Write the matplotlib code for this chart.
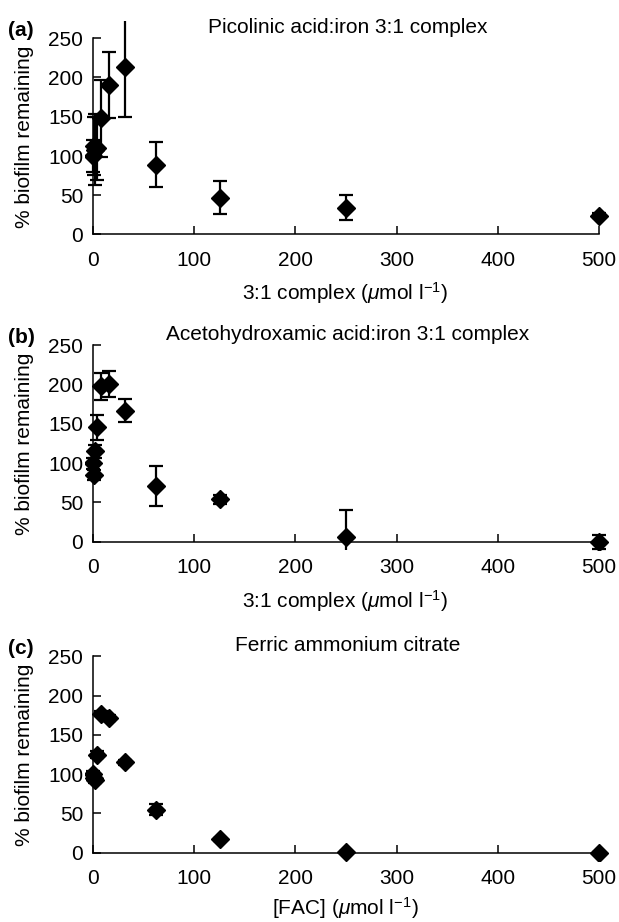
import matplotlib
matplotlib.use('Agg')
import matplotlib.pyplot as plt

plt.rcParams['font.family'] = ['Liberation Sans', 'DejaVu Sans']
plt.rcParams['mathtext.fontset'] = 'custom'
plt.rcParams['mathtext.rm'] = 'Liberation Sans'
plt.rcParams['mathtext.it'] = 'Liberation Sans:italic'

# concentrations (umol/l), same series for all three panels
conc = [0, 0.98, 1.95, 3.9, 7.8, 15.6, 31.25, 62.5, 125, 250, 500]

# (a) picolinic acid:iron 3:1
pic_y = [100, 113, 108, 110, 148, 190, 213, 89, 47, 34, 24]
pic_err = [20, 37, 45, 40, 49, 42, 63, 29, 21, 16, 3]

# (b) acetohydroxamic acid:iron 3:1
aha_y = [100, 85, 115, 146, 198, 201, 167, 71, 54, 6, 0]
aha_err = [7, 6, 8, 16, 17, 17, 15, 25, 6, 35, 9]

# (c) ferric ammonium citrate
fac_y = [100, 95, 92, 125, 177, 172, 115, 55, 17, 1, 0]
fac_err = [4, 3, 3, 4, 3, 4, 3, 7, 2, 1, 1]

titles = ['Picolinic acid:iron 3:1 complex',
          'Acetohydroxamic acid:iron 3:1 complex',
          'Ferric ammonium citrate']
letters = ['(a)', '(b)', '(c)']
xlabels = [r'3:1 complex ($\mu$mol l$^{-1}$)',
           r'3:1 complex ($\mu$mol l$^{-1}$)',
           r'[FAC] ($\mu$mol l$^{-1}$)']
ys = [pic_y, aha_y, fac_y]
errs = [pic_err, aha_err, fac_err]

W, H = 619, 922
FS = 15
fig = plt.figure(figsize=(W / 100, H / 100), dpi=100)

# pixel position of y=0 for each panel
zero_px = [234.5, 541.7, 852.7]
xlab_off = [59, 59, 55]
ppu_y = 0.785
x0_px, ppu_x = 93, 1.012
xlo, xhi = -8, 512
ylo, yhi = -10, 272

for i in range(3):
    left = (x0_px + xlo * ppu_x) / W
    width = (xhi - xlo) * ppu_x / W
    bottom = 1 - (zero_px[i] - ylo * ppu_y) / H
    height = (yhi - ylo) * ppu_y / H
    ax = fig.add_axes([left, bottom, width, height])
    ax.errorbar(conc, ys[i], yerr=errs[i], fmt='D', color='black',
                ms=9, elinewidth=1.6, capsize=5, capthick=1.6)
    ax.set_xlim(xlo, xhi)
    ax.set_ylim(ylo, yhi)
    for s in ['top', 'right']:
        ax.spines[s].set_visible(False)
    ax.spines['left'].set_position(('data', 0))
    ax.spines['bottom'].set_position(('data', 0))
    ax.spines['left'].set_bounds(0, 250)
    ax.spines['bottom'].set_bounds(0, 500)
    ax.spines['left'].set_linewidth(1.1)
    ax.spines['bottom'].set_linewidth(1.1)
    ax.set_xticks([0, 100, 200, 300, 400, 500])
    ax.set_yticks([0, 50, 100, 150, 200, 250])
    ax.tick_params(axis='x', direction='in', length=6, width=1.1,
                   labelsize=FS, pad=12)
    ax.tick_params(axis='y', direction='in', length=6, width=1.1,
                   labelsize=FS, pad=7)
    ax.patch.set_visible(False)

    top250 = zero_px[i] - 250 * ppu_y
    fig.text(348 / W, 1 - (top250 - 11) / H, titles[i], fontsize=FS,
             ha='center', va='center')
    fig.text(8 / W, 1 - (top250 - 8) / H, letters[i], fontsize=FS,
             fontweight='bold', ha='left', va='center')
    fig.text(25 / W, 1 - (zero_px[i] - 125 * ppu_y) / H,
             '% biofilm remaining', fontsize=FS, rotation=90,
             ha='center', va='center')
    fig.text(345 / W, 1 - (zero_px[i] + xlab_off[i]) / H, xlabels[i],
             fontsize=FS, ha='center', va='center')

fig.savefig('out.png', dpi=100)
